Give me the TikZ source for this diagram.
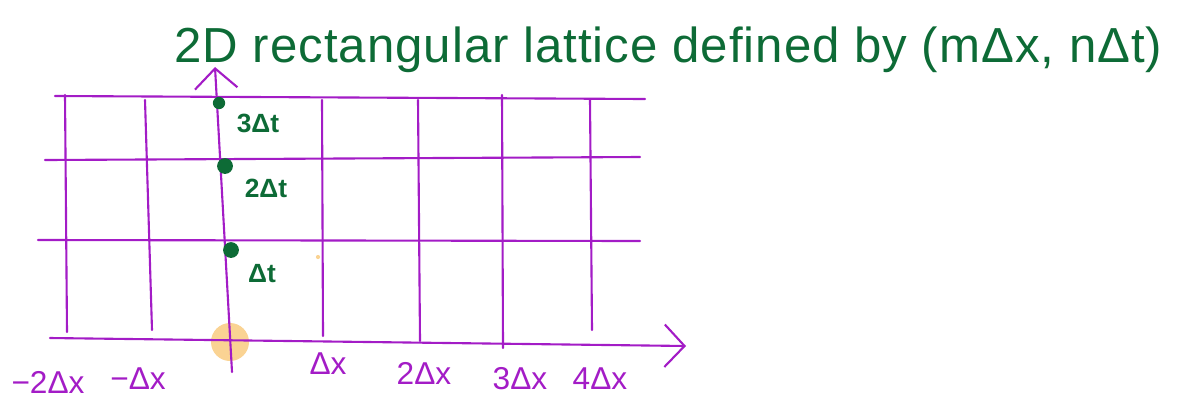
\documentclass[tikz,border=0pt]{standalone}
\usepackage{fontspec}
\setmainfont{Liberation Sans}
\usetikzlibrary{arrows.meta}
\definecolor{latpurple}{HTML}{A31CC6}
\definecolor{latgreen}{HTML}{0D6B36}
\definecolor{latorange}{HTML}{FAD393}

\begin{document}
\begin{tikzpicture}[x=0.02cm, y=-0.02cm,
  gridline/.style={draw=latpurple, line width=1.2pt, line cap=round},
  axis/.style={gridline, -{Straight Barb[length=4mm, width=8.5mm, line width=1.2pt]}},
  xlabel/.style={text=latpurple, font=\fontsize{18}{18}\selectfont, inner sep=0pt},
  tlabel/.style={text=latgreen, font=\fontsize{15}{15}\selectfont\bfseries, inner sep=0pt},
  dot/.style={circle, fill=latgreen, inner sep=0pt, minimum size=#1}
]
\useasboundingbox (0,0) rectangle (1192,400);
% title
\node[anchor=west, text=latgreen, font=\fontsize{28}{28}\selectfont\addfontfeatures{LetterSpace=2}, inner sep=0pt] (title) at (174,50) {2D rectangular lattice defined by (mΔx, nΔt)};
% origin
\node[circle, fill=latorange, minimum size=38*0.02cm, inner sep=0pt] (origin) at (230,342) {};
\fill[latorange] (318,257) circle (1.2pt);
% horizontal lines
\draw[gridline] (55,96) -- (645,99);
\draw[gridline] (45,160) -- (640,157);
\draw[gridline] (38,240) -- (640,241);
\coordinate (xstart) at (50,338);
\coordinate (xend) at (686,346);
\draw[axis] (xstart) -- (xend);
% vertical lines
\draw[gridline] (65,95) -- (67,332);
\draw[gridline] (145,100) -- (152,330);
\draw[gridline] (322,100) -- (323,336);
\draw[gridline] (418,100) -- (420,341);
\draw[gridline] (502,95) -- (503,348);
\draw[gridline] (590,100) -- (592,330);
\coordinate (tstart) at (232,372);
\coordinate (tend) at (215,67);
\draw[axis] (tstart) -- (tend);
% time points
\node[dot=7pt] (t3) at (219,103) {};
\node[dot=9pt] (t2) at (225,166) {};
\node[dot=9pt] (t1) at (231,250) {};
\node[tlabel] (t3lab) at (258,123) {3Δt};
\node[tlabel] (t2lab) at (266,188) {2Δt};
\node[tlabel] (t1lab) at (262,274) {Δt};
% x labels
\node[xlabel] (xm2) at (48,382) {−2Δx};
\node[xlabel] (xm1) at (138,379) {−Δx};
\node[xlabel] (xp1) at (328,364) {Δx};
\node[xlabel] (xp2) at (424,373) {2Δx};
\node[xlabel] (xp3) at (520,379) {3Δx};
\node[xlabel] (xp4) at (600,379) {4Δx};
\end{tikzpicture}
\end{document}
